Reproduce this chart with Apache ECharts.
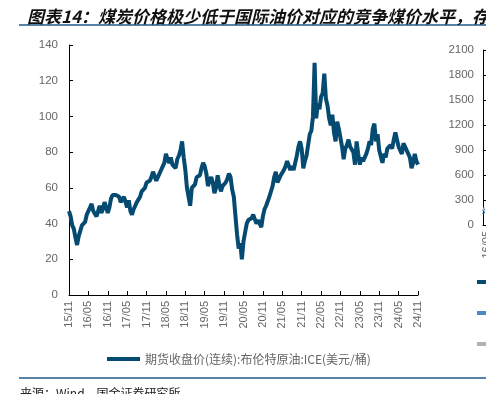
<!DOCTYPE html>
<html><head><meta charset="utf-8">
<script src="https://cdn.jsdelivr.net/npm/echarts@6/dist/echarts.min.js"></script>
<style>html,body{margin:0;padding:0;background:#fff}#c{width:486px;height:394px}</style>
</head><body><div id="c"></div>
<script>
// Semi-monthly points from 2015-11 to 2024-11
const brent2015 = [47, 44, 39, 37];
const brent2016 = [32, 28, 33, 34, 39, 40, 41, 45, 46, 49, 51, 47, 46, 44, 47, 50, 46, 48, 52, 49, 46, 49, 54, 56];
const brent2017 = [55, 56, 56, 55, 52, 51, 55, 52, 49, 53, 47, 45, 48, 50, 52, 51, 55, 58, 57, 60, 63, 62, 64, 66];
const brent2018 = [69, 70, 64, 66, 65, 70, 72, 74, 79, 76, 74, 77, 73, 72, 71, 76, 78, 81, 86, 77, 70, 60, 59, 50];
const brent2019 = [60, 61, 62, 66, 67, 67, 71, 74, 72, 68, 61, 64, 66, 63, 57, 60, 67, 62, 58, 61, 62, 63, 65, 68];
const brent2020 = [66, 59, 55, 54, 34, 26, 29, 20, 30, 35, 40, 42, 43, 43, 45, 45, 40, 42, 42, 38, 44, 48, 50, 51];
const brent2021 = [55, 55, 61, 66, 69, 63, 63, 67, 68, 70, 72, 75, 75, 70, 72, 70, 74, 78, 83, 86, 82, 71, 75, 78];
const brent2022 = [84, 90, 92, 100, 130, 99, 107, 104, 111, 113, 124, 110, 106, 99, 95, 101, 91, 86, 97, 93, 94, 83, 76, 82];
const brent2023 = [84, 87, 83, 82, 80, 73, 86, 79, 73, 77, 75, 74, 79, 82, 86, 84, 93, 96, 86, 90, 81, 80, 74, 79];
const brent2024 = [77, 82, 82, 84, 82, 87, 91, 87, 83, 81, 79, 85, 86, 81, 80, 77, 71, 74, 79, 75, 73];
const brent = [].concat(brent2015, brent2016, brent2017, brent2018, brent2019, brent2020, brent2021, brent2022, brent2023, brent2024);

const tickLabels = ['15/11','16/05','16/11','17/05','17/11','18/05','18/11','19/05','19/11','20/05','20/11','21/05','21/11','22/05','22/11','23/05','23/11','24/05','24/11'];

// categories: two per month, labelled with yy/mm
const categories = [];
{
  let y = 15, m = 11;
  for (let i = 0; i < brent.length; i++) {
    categories.push(String(y).padStart(2,'0') + '/' + String(m).padStart(2,'0') + (i % 2 ? 'b' : 'a'));
    if (i % 2) { m++; if (m > 12) { m = 1; y++; } }
  }
}

// Right (cropped) chart: only the very beginning is visible
const coalA = [150, 148, 145, 142, 140, 138];
const coalB = [185, 182, 180, 176, 172, 170];
const coalC = [200, 198, 195, 192, 190, 188];

const seriesName = '期货收盘价(连续):布伦特原油:ICE(美元/桶)';
const rightNames = ['动力煤价格(元/吨)', '油价对应煤价(元/吨)', '竞争煤价(元/吨)'];

const FONT = 'Liberation Sans, Arial, Noto Sans CJK SC';
const chart = echarts.init(document.getElementById('c'));
const fmtCat = v => { const s = v.slice(0,5); return tickLabels.includes(s) ? s : ''; };
const xAxisCommon = {
  type: 'category', data: categories, boundaryGap: false,
  axisLine: {lineStyle: {color: '#000', width: 1}},
  axisTick: {inside: true, length: 4, interval: 11, lineStyle: {color: '#000'}},
  axisLabel: {interval: 11, rotate: 90, fontSize: 11, color: '#666', margin: 6, formatter: fmtCat}
};
chart.setOption({
  animation: false,
  textStyle: {fontFamily: FONT},
  title: {
    text: '图表14：煤炭价格极少低于国际油价对应的竞争煤价水平，存在',
    left: 22, top: 3,
    textStyle: {fontSize: 17, fontWeight: 'bold', fontStyle: 'italic', color: '#111', fontFamily: 'Noto Sans CJK SC, Liberation Sans'}
  },
  graphic: [
    {type: 'line', shape: {x1: 19, y1: 25, x2: 486, y2: 25}, style: {stroke: '#1f5a8c', lineWidth: 1.5}},
    {type: 'line', shape: {x1: 19, y1: 378, x2: 486, y2: 378}, style: {stroke: '#1f5a8c', lineWidth: 1.5}},
    {type: 'text', left: 20, top: 387, style: {text: '来源：Wind，国金证券研究所', fontSize: 12, fill: '#222', fontFamily: 'Noto Sans CJK SC'}}
  ],
  legend: [
    {
      data: [seriesName], left: 102, top: 348, itemWidth: 33, itemHeight: 4, icon: 'rect',
      textStyle: {fontSize: 12, color: '#666', fontFamily: 'Noto Sans CJK SC, Liberation Sans'}
    },
    {
      data: rightNames, left: 472, top: 270, orient: 'vertical', itemWidth: 30, itemHeight: 4, icon: 'rect', itemGap: 17,
      textStyle: {fontSize: 12, color: '#666', lineHeight: 14, fontFamily: 'Noto Sans CJK SC'}
    }
  ],
  grid: [
    {left: 69, right: 68, top: 45, bottom: 99},
    {left: 483, width: 300, top: 50, bottom: 169}
  ],
  xAxis: [
    Object.assign({gridIndex: 0}, xAxisCommon),
    Object.assign({gridIndex: 1}, xAxisCommon)
  ],
  yAxis: [
    {
      type: 'value', gridIndex: 0, min: 0, max: 140, interval: 20,
      splitLine: {show: false},
      axisLine: {show: true, lineStyle: {color: '#000', width: 1}},
      axisTick: {show: true, inside: true, length: 4, lineStyle: {color: '#000'}},
      axisLabel: {fontSize: 11.5, color: '#666', margin: 11}
    },
    {
      type: 'value', gridIndex: 1, min: 0, max: 2100, interval: 300,
      splitLine: {show: false},
      axisLine: {show: true, lineStyle: {color: '#000', width: 1}},
      axisTick: {show: true, inside: true, length: 4, lineStyle: {color: '#000'}},
      axisLabel: {fontSize: 11.5, color: '#666', margin: 9, formatter: v => String(v)}
    }
  ],
  series: [
    {name: seriesName, type: 'line', xAxisIndex: 0, yAxisIndex: 0, data: brent, symbol: 'none',
      lineStyle: {color: '#054a70', width: 4}, itemStyle: {color: '#054a70'}},
    {name: rightNames[0], type: 'line', xAxisIndex: 1, yAxisIndex: 1, data: coalA, symbol: 'none',
      lineStyle: {color: '#054a70', width: 3}, itemStyle: {color: '#054a70'}},
    {name: rightNames[1], type: 'line', xAxisIndex: 1, yAxisIndex: 1, data: coalB, symbol: 'none',
      lineStyle: {color: '#4a88c8', width: 3}, itemStyle: {color: '#4a88c8'}},
    {name: rightNames[2], type: 'line', xAxisIndex: 1, yAxisIndex: 1, data: coalC, symbol: 'none',
      lineStyle: {color: '#b0b0b0', width: 3}, itemStyle: {color: '#b0b0b0'}}
  ]
});
</script></body></html>
